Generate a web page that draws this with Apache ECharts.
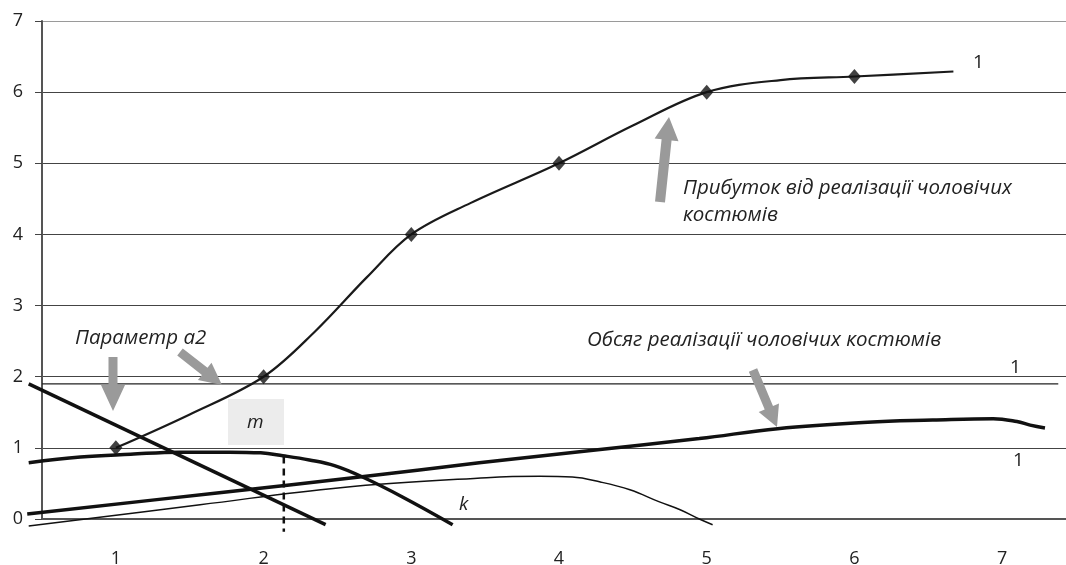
<!DOCTYPE html>
<html>
<head>
<meta charset="utf-8">
<script src="https://cdn.jsdelivr.net/npm/echarts@6/dist/echarts.min.js"></script>
<style>
  html, body { margin: 0; padding: 0; background: #fff; }
  #chart { width: 1066px; height: 565px; }
</style>
</head>
<body>
<div id="chart"></div>
<script>
// categories on the x axis
var categories = ['1', '2', '3', '4', '5', '6', '7']

// profit curve (thin, with diamonds)
var profitX = [1, 1.5, 2, 2.35, 2.7, 3, 3.4, 4, 4.5, 5, 5.5, 6, 6.67]
var profitY = [1, 1.47, 2, 2.64, 3.4, 4, 4.44, 5, 5.53, 6, 6.17, 6.22, 6.29]
var markX = [1, 2, 3, 4, 5, 6]
var markY = [1, 2, 4, 5, 6, 6.22]

// sales volume (thick, long rising)
var volumeX = [0.4, 1.7, 2.65, 3.46, 4.2, 4.95, 5.48, 6.09, 6.53, 6.94, 7.1, 7.19, 7.29]
var volumeY = [0.07, 0.37, 0.59, 0.79, 0.96, 1.13, 1.27, 1.36, 1.39, 1.41, 1.37, 1.32, 1.28]

// thick hump curve
var humpX = [0.41, 0.76, 1.1, 1.43, 1.77, 1.98, 2.13, 2.31, 2.48, 2.67, 2.94, 3.28]
var humpY = [0.79, 0.87, 0.91, 0.94, 0.94, 0.93, 0.89, 0.83, 0.75, 0.59, 0.31, -0.08]

// thin curve k
var kX = [0.41, 1.57, 2.52, 3.51, 3.87, 4.09, 4.28, 4.48, 4.68, 4.82, 4.95, 5.04]
var kY = [-0.1, 0.2, 0.44, 0.58, 0.6, 0.59, 0.52, 0.41, 0.24, 0.13, 0, -0.08]

// parameter a2 line
var a2X = [0.41, 2.42]
var a2Y = [1.9, -0.08]

// level line "1" and dashed m line
var levelX = [0.5, 7.38]
var levelY = 1.9
var mX = 2.137
var mY = [0.88, -0.18]

// plot area in pixels (the category axis is cut by the right edge)
var plotLeft = 42, plotTop = 21, plotW = 1034, plotH = 498
var W = 1066, H = 565
var unitX = plotW / categories.length
var unitY = plotH / 7

function zip(xs, ys) {
  return xs.map(function(x, i) { return [x, ys[i]] })
}

function arrow(x1, y1, x2, y2, sw, hw, hl) {
  var dx = x2 - x1, dy = y2 - y1
  var len = Math.sqrt(dx * dx + dy * dy)
  var ux = dx / len, uy = dy / len
  var nx = -uy, ny = ux
  var bx = x2 - ux * hl, by = y2 - uy * hl
  return {
    type: 'polygon',
    shape: {
      points: [
        [x1 + nx * sw / 2, y1 + ny * sw / 2],
        [bx + nx * sw / 2, by + ny * sw / 2],
        [bx + nx * hw / 2, by + ny * hw / 2],
        [x2, y2],
        [bx - nx * hw / 2, by - ny * hw / 2],
        [bx - nx * sw / 2, by - ny * sw / 2],
        [x1 - nx * sw / 2, y1 - ny * sw / 2]
      ]
    },
    style: { fill: '#9a9a9a' },
    z: 10
  }
}

function note(text, x, y, italic, size) {
  return {
    type: 'text',
    x: x,
    y: y,
    style: {
      text: text,
      font: (italic ? 'italic ' : '') + (size || 17) + 'px "Open Sans"',
      fill: '#222',
      verticalAlign: 'middle'
    },
    z: 12
  }
}

var chart = echarts.init(document.getElementById('chart'))

var lineBase = {
  type: 'line',
  xAxisIndex: 1,
  yAxisIndex: 1,
  symbol: 'none',
  clip: false,
  silent: true
}

chart.setOption({
  backgroundColor: '#fff',
  animation: false,
  grid: [{
    left: plotLeft,
    top: plotTop,
    width: plotW,
    height: plotH,
    outerBoundsMode: 'none',
    containLabel: false
  }, {
    // full-page grid so curves can run past the axes
    left: 0,
    top: 0,
    width: W,
    height: H,
    outerBoundsMode: 'none',
    containLabel: false
  }],
  xAxis: [{
    type: 'category',
    data: categories,
    boundaryGap: true,
    axisLine: { lineStyle: { color: '#555', width: 2 } },
    axisTick: { length: 8, lineStyle: { color: '#444', width: 1 } },
    axisLabel: { margin: 31, fontSize: 18, color: '#222', fontFamily: 'Open Sans' },
    splitLine: { show: false }
  }, {
    type: 'value',
    gridIndex: 1,
    min: 0.5 - plotLeft / unitX,
    max: 0.5 + (W - plotLeft) / unitX,
    show: false
  }],
  yAxis: [{
    type: 'value',
    min: 0,
    max: 7,
    interval: 1,
    axisLine: { show: true, lineStyle: { color: '#555', width: 2 } },
    axisTick: { show: true, length: 7, lineStyle: { color: '#444' } },
    axisLabel: { margin: 19, fontSize: 18, color: '#222', fontFamily: 'Open Sans' },
    splitLine: {
      lineStyle: {
        color: ['#444', '#444', '#444', '#444', '#444', '#444', '#444', '#9a9a9a'],
        width: 1.2
      }
    }
  }, {
    type: 'value',
    gridIndex: 1,
    min: -(H - plotTop - plotH) / unitY,
    max: (plotTop + plotH) / unitY,
    show: false
  }],
  series: [
    Object.assign({}, lineBase, {
      name: 'level',
      data: zip(levelX, [levelY, levelY]),
      lineStyle: { color: '#222', width: 1.3 }
    }),
    Object.assign({}, lineBase, {
      name: 'm',
      data: zip([mX, mX], mY),
      lineStyle: { color: '#111', width: 2.5, type: [7, 5] }
    }),
    Object.assign({}, lineBase, {
      name: 'k',
      data: zip(kX, kY),
      smooth: 0.4,
      lineStyle: { color: '#111', width: 1.5 }
    }),
    Object.assign({}, lineBase, {
      name: 'Обсяг',
      data: zip(volumeX, volumeY),
      smooth: 0.4,
      lineStyle: { color: '#111', width: 3.5 }
    }),
    Object.assign({}, lineBase, {
      name: 'hump',
      data: zip(humpX, humpY),
      smooth: 0.4,
      lineStyle: { color: '#111', width: 3.5 }
    }),
    Object.assign({}, lineBase, {
      name: 'a2',
      data: zip(a2X, a2Y),
      lineStyle: { color: '#111', width: 3.5 }
    }),
    Object.assign({}, lineBase, {
      name: 'Прибуток',
      data: zip(profitX, profitY),
      smooth: 0.35,
      lineStyle: { color: '#1a1a1a', width: 2.2 }
    }),
    {
      type: 'scatter',
      xAxisIndex: 1,
      yAxisIndex: 1,
      symbol: 'diamond',
      symbolSize: [13, 15],
      itemStyle: { color: '#111' },
      data: zip(markX, markY),
      z: 5
    }
  ],
  graphic: [
    { type: 'rect', shape: { x: 228, y: 399, width: 56, height: 46 }, style: { fill: '#ececec' }, z: 1 },
    note('m', 247, 423, true, 19),
    note('k', 459, 505, true, 19),
    note('1', 973, 63, false, 19),
    note('1', 1010, 368, false, 19),
    note('1', 1013, 461, false, 19),
    note('Параметр а2', 75, 338, true, 20.5),
    note('Обсяг реалізації чоловічих костюмів', 587, 340, true, 20.5),
    note('Прибуток від реалізації чоловічих', 683, 188, true, 20.5),
    note('костюмів', 683, 215, true, 20.5),
    arrow(113, 357, 113, 411, 9, 24, 26),
    arrow(180, 352, 222, 385, 9, 22, 22),
    arrow(660, 202, 669, 117, 10, 24, 23),
    arrow(753, 370, 777, 427, 9, 22, 21)
  ]
})
</script>
</body>
</html>
